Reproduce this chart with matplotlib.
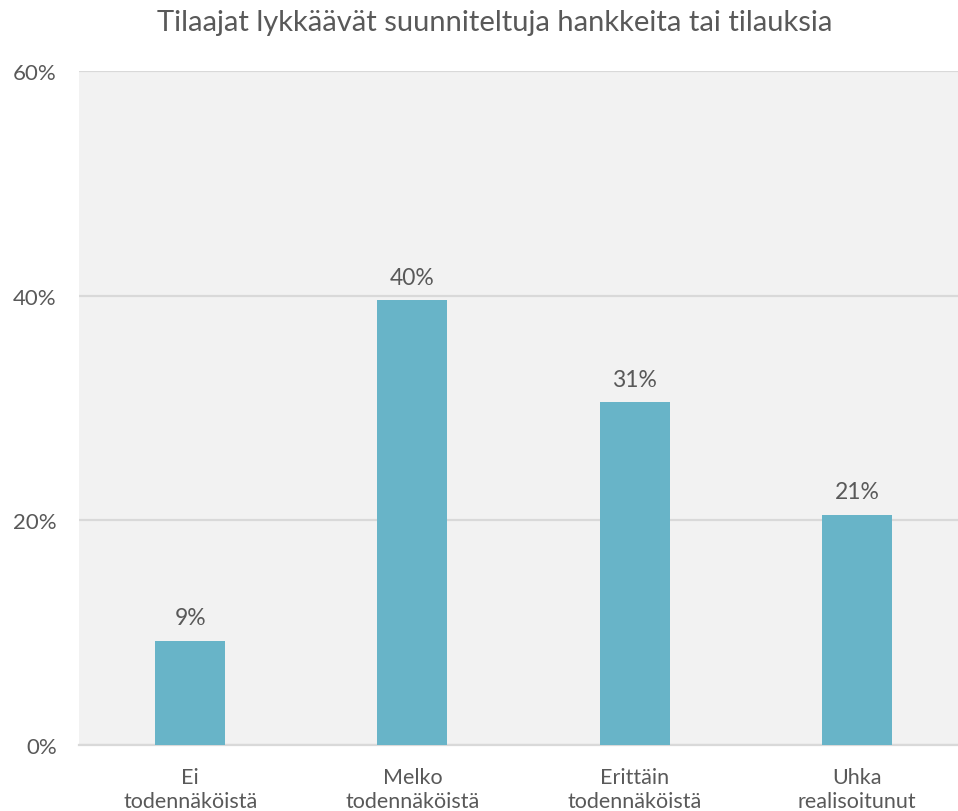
import matplotlib
matplotlib.use("Agg")
import matplotlib.pyplot as plt
from matplotlib.ticker import FuncFormatter

categories = ["Ei\ntodennäköistä", "Melko\ntodennäköistä", "Erittäin\ntodennäköistä", "Uhka\nrealisoitunut"]
values = [9.3, 39.6, 30.5, 20.5]
value_labels = ["9%", "40%", "31%", "21%"]
yticks = [0, 20, 40, 60]
title = "Tilaajat lykkäävät suunniteltuja hankkeita tai tilauksia"

plt.rcParams['font.family'] = ['Lato', 'DejaVu Sans']
txt = "#595959"

fig = plt.figure(figsize=(9.58, 8.12), dpi=100)
ax = fig.add_axes([79/958, 66/812, 1 - 79/958, 674/812])
ax.set_facecolor("#f2f2f2")

x = range(len(categories))
ax.bar(x, values, width=0.315, color="#68b4c8", zorder=3)
for xi, v, lab in zip(x, values, value_labels):
    ax.annotate(lab, (xi, v), xytext=(0, 9), textcoords="offset points",
                ha="center", va="bottom", fontsize=16.5, color=txt)

ax.set_ylim(0, 60)
ax.set_xlim(-0.5, (958 - 79) / 222.3 - 0.5)
ax.set_yticks(yticks)
ax.yaxis.set_major_formatter(FuncFormatter(lambda v, p: f"{int(v)}%"))
ax.set_xticks(list(x))
ax.set_xticklabels(categories, fontsize=15.5, color=txt, linespacing=1.3)
ax.tick_params(axis="y", labelsize=16, labelcolor=txt, length=0, pad=16)
ax.tick_params(axis="x", length=0, pad=15.5)
ax.grid(axis="y", color="#d9d9d9", linewidth=1.6, zorder=0)
for s in ["top", "right", "left"]:
    ax.spines[s].set_visible(False)
ax.spines["bottom"].set_color("#d9d9d9")
ax.spines["bottom"].set_linewidth(1.6)

fig.text(495/958, 1 - 23/812, title, ha="center", va="center", fontsize=21, color=txt)

fig.savefig("out.png", dpi=100)
